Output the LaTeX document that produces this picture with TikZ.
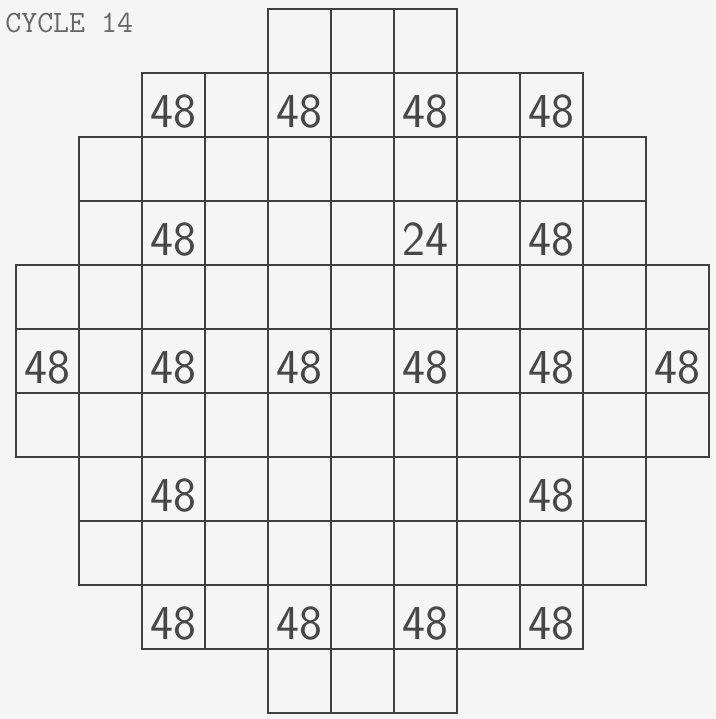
\documentclass[tikz,border=0pt]{standalone}
\usepackage{tikz}
\tikzset{cell/.style={draw=black!75, line width=0.8pt, minimum width=1cm, minimum height=1.016cm, inner sep=0pt, anchor=north west}}
\tikzset{fuel/.style={font=\sffamily\fontsize{22}{22}\selectfont, text=black!72}}
\tikzset{heading/.style={font=\ttfamily\fontsize{14}{16}\selectfont, text=black!60, anchor=base west, inner sep=0pt}}

\begin{document}
\begin{tikzpicture}[scale=1]
\useasboundingbox[fill=black!4] (-0.238,0.127) rectangle (11.127,-11.286);

% core map, one row at a time
\foreach \r/\a/\b in {0/4/6,1/2/8,2/1/9,3/1/9,4/0/10,5/0/10,6/0/10,7/1/9,8/1/9,9/2/8,10/4/6}
  \foreach \c in {\a,...,\b}
    \node[cell] (c-\r-\c) at ({\c},{-1.016*\r}) {};

% assemblies with their count
\foreach \r/\c/\n in {1/2/48,1/4/48,1/6/48,1/8/48,
                      3/2/48,3/6/24,3/8/48,
                      5/0/48,5/2/48,5/4/48,5/6/48,5/8/48,5/10/48,
                      7/2/48,7/8/48,
                      9/2/48,9/4/48,9/6/48,9/8/48}
  \node[fuel, yshift=-3pt] (n-\r-\c) at (c-\r-\c.center) {\n};

\node[heading] (cyc) at (-0.16,-0.39) {CYCLE 14};
\end{tikzpicture}
\end{document}
